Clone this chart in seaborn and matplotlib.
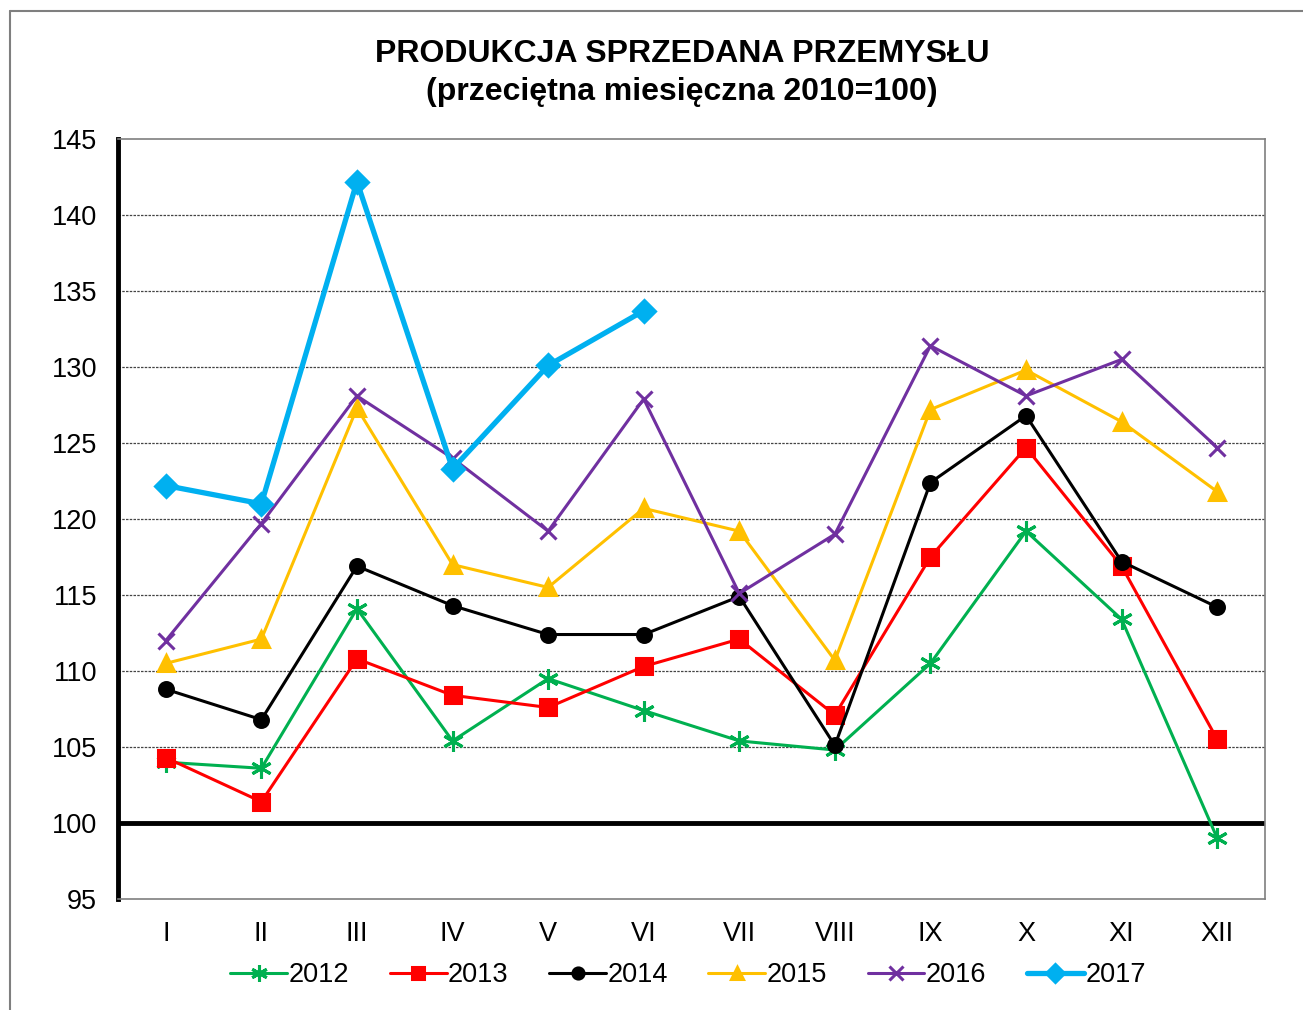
import numpy as np
import pandas as pd
import matplotlib
matplotlib.use("Agg")
import matplotlib.pyplot as plt
import seaborn as sns
from matplotlib.lines import Line2D

# dane
months = ['I', 'II', 'III', 'IV', 'V', 'VI', 'VII', 'VIII', 'IX', 'X', 'XI', 'XII']
v2012 = [104.0, 103.6, 114.1, 105.4, 109.5, 107.4, 105.4, 104.8, 110.5, 119.2, 113.4, 99.0]
v2013 = [104.3, 101.4, 110.8, 108.4, 107.6, 110.3, 112.1, 107.1, 117.5, 124.7, 116.9, 105.5]
v2014 = [108.8, 106.8, 116.9, 114.3, 112.4, 112.4, 114.9, 105.1, 122.4, 126.8, 117.2, 114.2]
v2015 = [110.5, 112.1, 127.3, 117.0, 115.5, 120.7, 119.2, 110.7, 127.2, 129.8, 126.4, 121.8]
v2016 = [112.0, 119.7, 128.1, 124.0, 119.2, 127.9, 115.1, 119.0, 131.4, 128.1, 130.5, 124.7]
v2017 = [122.2, 121.0, 142.2, 123.3, 130.1, 133.7]

series = [
    ('2012', v2012, '#00B050', (6, 2, 0), 15, 2.2),
    ('2013', v2013, '#FF0000', 's', 11, 2.2),
    ('2014', v2014, '#000000', 'o', 10, 2.2),
    ('2015', v2015, '#FFC000', '^', 11, 2.2),
    ('2016', v2016, '#7030A0', 'x', 12, 2.2),
    ('2017', v2017, '#00B0F0', 'D', 11, 3.8),
]

sns.set_style("white")
plt.rcParams['font.family'] = ['Liberation Sans', 'DejaVu Sans']
plt.rcParams['text.color'] = 'black'
plt.rcParams['xtick.color'] = 'black'
plt.rcParams['ytick.color'] = 'black'

fig = plt.figure(figsize=(13.03, 10.10), dpi=100)
ax = fig.add_axes([118/1303, 1 - 899/1010, (1265-118)/1303, (899-139)/1010])

for label, vals, color, marker, ms, lw in series:
    df = pd.DataFrame({'x': np.arange(len(vals)), 'y': vals})
    sns.lineplot(data=df, x='x', y='y', ax=ax, color=color, marker=marker,
                 markersize=ms, linewidth=lw, markeredgewidth=2.2,
                 markeredgecolor=color, label=label, legend=False, zorder=3)

ax.set_xlim(-0.5, 11.5)
ax.set_ylim(95, 145)
ax.set_yticks(np.arange(95, 146, 5))
ax.set_xticks(np.arange(12))
ax.set_xticklabels(months)
ax.set_xlabel('')
ax.set_ylabel('')
ax.tick_params(axis='y', which='major', direction='out', length=9, width=3,
               color='black', labelsize=19.5, labelcolor='black', pad=6)
ax.tick_params(axis='x', length=0, labelsize=19.5, labelcolor='black', pad=16)

# siatka
for yv in np.arange(105, 145, 5):
    ax.axhline(yv, color='#444444', linewidth=0.9, linestyle=(0, (2, 1)), zorder=1)
ax.axhline(100, color='black', linewidth=3.5, zorder=2)

for s in ['top', 'right', 'bottom']:
    ax.spines[s].set_color('#7f7f7f')
    ax.spines[s].set_linewidth(1.2)
ax.spines['left'].set_color('black')
ax.spines['left'].set_linewidth(3.5)

fig.text(682/1303, 1 - 54/1010, 'PRODUKCJA SPRZEDANA PRZEMYSŁU',
         ha='center', va='center', fontsize=23, fontweight='bold', color='black')
fig.text(682/1303, 1 - 92/1010, '(przeciętna miesięczna 2010=100)',
         ha='center', va='center', fontsize=23, fontweight='bold', color='black')

# ramka wykresu
fig.add_artist(Line2D([10/1303, 1], [1 - 11/1010, 1 - 11/1010], color='#7f7f7f', linewidth=1.5))
fig.add_artist(Line2D([10/1303, 10/1303], [0, 1 - 11/1010], color='#7f7f7f', linewidth=1.5))

handles, labels = ax.get_legend_handles_labels()
fig.legend(handles, labels, loc='center', bbox_to_anchor=(688/1303, 1 - 975/1010),
           ncol=6, frameon=False, fontsize=19.5, handlelength=2.1, handletextpad=0.05,
           columnspacing=1.5, markerscale=0.8)

plt.savefig('out.png', dpi=100, facecolor='white')
